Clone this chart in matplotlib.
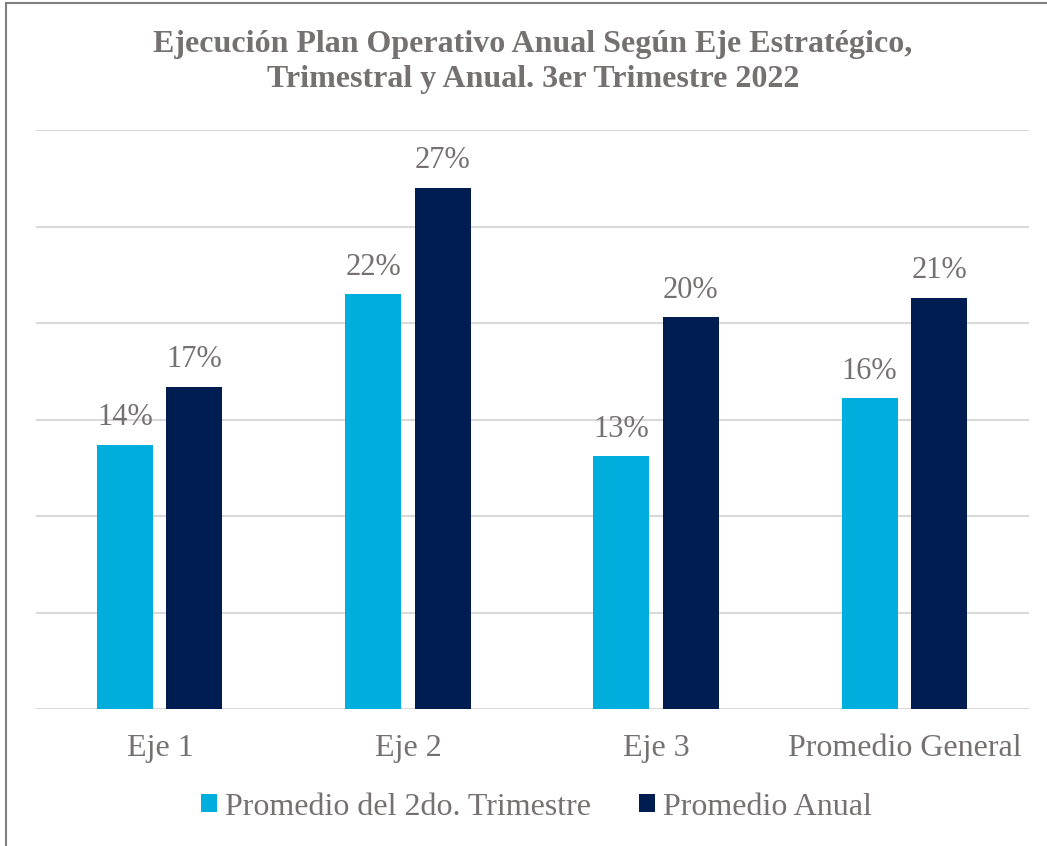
import matplotlib.pyplot as plt
import numpy as np
from matplotlib.patches import Rectangle

# values (fraction)
categorias = ['Eje 1', 'Eje 2', 'Eje 3', 'Promedio General']
trimestre = [0.137, 0.215, 0.131, 0.161]
anual = [0.167, 0.270, 0.203, 0.213]
series = ['Promedio del 2do. Trimestre', 'Promedio Anual']

plt.rcParams['font.family'] = ['Liberation Serif', 'DejaVu Serif']
gris = '#767171'
c_trim = '#00AEDD'
c_anual = '#001D52'

fig = plt.figure(figsize=(10.47, 8.46), dpi=100)
ax = fig.add_axes([0.0344, 0.1619, 0.9484, 0.6844])

x = np.arange(len(categorias))
w = 0.225
b1 = ax.bar(x - 0.142, trimestre, w, color=c_trim, label=series[0], zorder=3)
b2 = ax.bar(x + 0.138, anual, w, color=c_anual, label=series[1], zorder=3)

for bars, vals in ((b1, trimestre), (b2, anual)):
    for rect, v in zip(bars, vals):
        ax.annotate(f'{v:.0%}', (rect.get_x() + rect.get_width() / 2, v),
                    xytext=(0, 9), textcoords='offset points',
                    ha='center', va='bottom', fontsize=22, color=gris)

ax.set_xlim(-0.5, 3.5)
ax.set_ylim(0, 0.30)
ax.set_yticks(np.arange(0, 0.31, 0.05))
ax.yaxis.grid(True, color='#D9D9D9', linewidth=1.5, zorder=0)
ax.tick_params(axis='y', left=False, labelleft=False)
ax.tick_params(axis='x', length=0, labelsize=23, labelcolor=gris, pad=18)
ax.set_xticks(x)
ax.set_xticklabels(categorias)
for s in ax.spines.values():
    s.set_visible(False)

fig.text(0.509, 0.927, 'Ejecución Plan Operativo Anual Según Eje Estratégico,\nTrimestral y Anual. 3er Trimestre 2022',
         ha='center', va='center', fontsize=23, fontweight='bold', color=gris, linespacing=1.25)

leg = fig.legend(loc='center', bbox_to_anchor=(0.512, 0.046), ncol=2, frameon=False,
                 fontsize=23, handlelength=0.5, handleheight=0.5, handletextpad=0.25,
                 columnspacing=1.5)
for t in leg.get_texts():
    t.set_color(gris)

# outer chart border
fig.patches.append(Rectangle((6 / 1047, -0.05), 1.2, 1 - 3 / 846 + 0.05, transform=fig.transFigure,
                             fill=False, edgecolor='#7F7F7F', linewidth=1.5))

fig.savefig('out.png', dpi=100)
